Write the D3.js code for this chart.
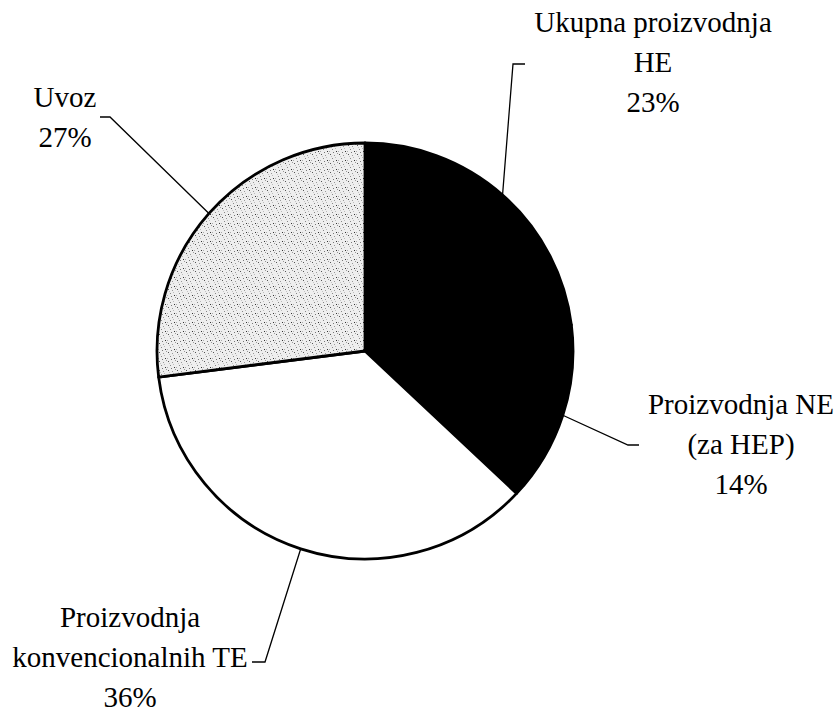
<!DOCTYPE html>
<html>
<head>
<meta charset="utf-8">
<script src="https://cdn.jsdelivr.net/npm/d3@7"></script>
<style>
  body { margin: 0; background: #fff; }
</style>
</head>
<body>
<div id="chart"></div>
<script>
const categories = ["Ukupna proizvodnja HE", "Proizvodnja NE (za HEP)", "Proizvodnja konvencionalnih TE", "Uvoz"];
const values = [23, 14, 36, 27];
const labelLines = [
  ["Ukupna proizvodnja", "HE", "23%"],
  ["Proizvodnja NE", "(za HEP)", "14%"],
  ["Proizvodnja", "konvencionalnih TE", "36%"],
  ["Uvoz", "27%"]
];

const width = 840, height = 718;
const cx = 365, cy = 351, radius = 208;

// label placement: text centre + first baseline, then leader elbow / end
const labelPos = [
  { x: 653, y: 32, elbow: [513, 64], end: [525, 64] },
  { x: 741, y: 414, elbow: [628, 445], end: [639, 445] },
  { x: 130, y: 627, elbow: [265, 662], end: [252, 662] },
  { x: 65, y: 107, elbow: [110, 117], end: [100, 117] }
];
const lineHeight = 40;

const svg = d3.select("#chart").append("svg")
  .attr("width", width)
  .attr("height", height);

// stipple texture for the import slice
const defs = svg.append("defs");
const pat = defs.append("pattern")
  .attr("id", "stipple")
  .attr("patternUnits", "userSpaceOnUse")
  .attr("width", 9).attr("height", 9);
pat.append("rect").attr("width", 9).attr("height", 9).attr("fill", "#eeeeee");
[[1, 1, "#555"], [5, 2, "#999"], [3, 5, "#888"], [7, 7, "#333"], [0, 7, "#aaa"], [6, 4, "#bbb"], [8, 0, "#999"], [2, 3, "#c4c4c4"], [4, 8, "#777"]]
  .forEach(([x, y, c]) => pat.append("rect").attr("x", x).attr("y", y).attr("width", 1).attr("height", 1).attr("fill", c));

const fills = ["#000", "#000", "#fff", "url(#stipple)"];

const pie = d3.pie().sort(null).value((d) => d)(values);
const arc = d3.arc().innerRadius(0).outerRadius(radius);
const edge = d3.arc().innerRadius(radius).outerRadius(radius);

const g = svg.append("g").attr("transform", `translate(${cx},${cy})`);

g.selectAll(".slice")
  .data(pie)
  .enter()
  .append("path")
  .attr("class", "slice")
  .attr("d", arc)
  .attr("fill", (d, i) => fills[i])
  .attr("stroke", "#000")
  .attr("stroke-width", 2.8)
  .attr("stroke-linejoin", "round");

// leader lines
svg.selectAll(".leader")
  .data(pie)
  .enter()
  .append("polyline")
  .attr("class", "leader")
  .attr("fill", "none")
  .attr("stroke", "#000")
  .attr("stroke-width", 1.3)
  .attr("points", (d, i) => {
    const c = edge.centroid(d);
    const p = labelPos[i];
    return [[cx + c[0], cy + c[1]], p.elbow, p.end].map((q) => q.join(",")).join(" ");
  });

// labels, one text element per line
labelLines.forEach((lines, i) => {
  const p = labelPos[i];
  lines.forEach((s, j) => {
    svg.append("text")
      .attr("x", p.x)
      .attr("y", p.y + j * lineHeight)
      .attr("text-anchor", "middle")
      .attr("fill", "#000")
      .style("font-family", "Liberation Serif")
      .style("font-size", "29px")
      .text(s);
  });
});
</script>
</body>
</html>
